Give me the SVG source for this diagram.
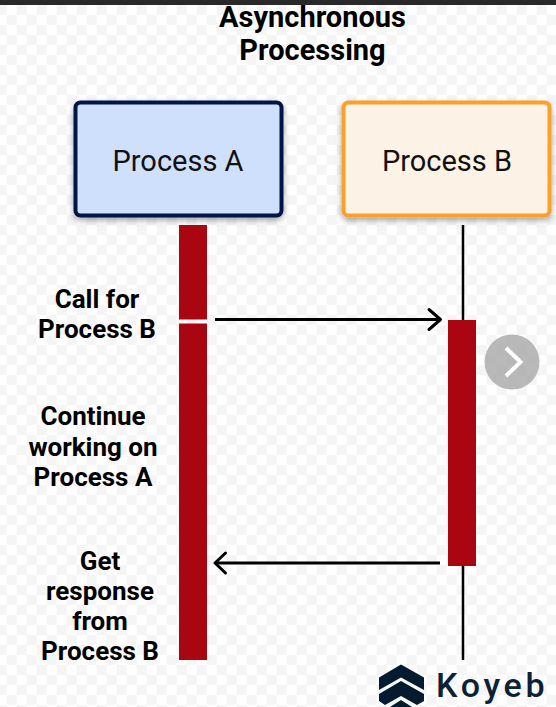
<svg xmlns="http://www.w3.org/2000/svg" width="556" height="707" viewBox="0 0 556 707">
<style>
.t{font-family:Roboto,"Liberation Sans",sans-serif;fill:#000;text-anchor:middle}
.b{font-weight:700;font-size:29px}
.l{font-weight:700;font-size:26px}
.n{font-size:29px;fill:#111}
.bar{fill:#a90612}
.ln{stroke:#000;fill:none;stroke-linecap:butt}
.ah{stroke:#000;fill:none;stroke-width:3;stroke-linecap:round;stroke-linejoin:round}
</style>
<defs>
<pattern id="chk" width="20" height="20" patternUnits="userSpaceOnUse" x="16.670" y="5">
<rect width="20" height="20" fill="#fff"/>
<rect x="0" y="0" width="10" height="10" fill="#f5f5f5"/>
<rect x="10" y="10" width="10" height="10" fill="#f5f5f5"/>
</pattern>
<filter id="sh" x="-10%" y="-10%" width="120%" height="125%"><feDropShadow dx="0" dy="3" stdDeviation="3" flood-color="#000" flood-opacity="0.35"/></filter>
</defs>
<rect width="556" height="707" fill="url(#chk)"/>
<rect width="556" height="5" fill="#292929"/>
<g id="title"><text class="t b" x="312.500" y="27">Asynchronous</text><text class="t b" x="312.500" y="60">Processing</text></g>
<g id="connectors">
<line class="ln" x1="463" y1="225" x2="463" y2="320" stroke-width="2.500"/>
<line class="ln" x1="463" y1="565" x2="463" y2="660" stroke-width="2.500"/>
<line class="ln" x1="215" y1="319.500" x2="440" y2="319.500" stroke-width="3"/>
<path class="ah" d="M429 309.500L440.500 319.500L429 329.500"/>
<line class="ln" x1="440" y1="563" x2="215" y2="563" stroke-width="3"/>
<path class="ah" d="M225.500 553L215 563L225.500 573"/>
</g>
<g id="process-a"><rect x="75.500" y="102.500" width="206" height="113" rx="5" fill="#cfe0fd" stroke="#04144a" stroke-width="4" filter="url(#sh)"/><text class="t n" x="178" y="170.500">Process A</text></g>
<g id="process-b"><rect x="343.500" y="102.500" width="206" height="113" rx="5" fill="#fdf2e6" stroke="#fe9f2b" stroke-width="4" filter="url(#sh)"/><text class="t n" x="447" y="170.500">Process B</text></g>
<g id="bar-a"><rect class="bar" x="179" y="225" width="28" height="94.500"/><rect class="bar" x="179" y="323.500" width="28" height="336.500"/></g>
<g id="bar-b"><rect class="bar" x="448" y="320" width="28" height="246"/></g>
<g id="label-call"><text class="t l" x="97" y="308">Call for</text><text class="t l" x="97" y="338">Process B</text></g>
<g id="label-continue"><text class="t l" x="93" y="425">Continue</text><text class="t l" x="93" y="456">working on</text><text class="t l" x="93" y="486">Process A</text></g>
<g id="label-get"><text class="t l" x="100" y="569.500">Get</text><text class="t l" x="100" y="599.500">response</text><text class="t l" x="100" y="629.500">from</text><text class="t l" x="100" y="659.500">Process B</text></g>
<g id="next-button"><circle cx="512" cy="362" r="27.500" fill="#a8a8a8" fill-opacity="0.8"/><path d="M506 348L520.500 362L506 376" fill="none" stroke="#fff" stroke-width="4"/></g>
<g id="logo"><path d="M401 664.500L424 677.500V690L401 677.500L379 690V677.500Z" fill="#041a2f"/><path d="M401 681L424 694V701L417 705L401 696L385 705L379 701V694Z" fill="#041a2f"/><path d="M401 700L412 707H390Z" fill="#041a2f"/><text x="436" y="697" font-family="Roboto,'Liberation Sans',sans-serif" font-weight="500" font-size="34" letter-spacing="3.700" fill="#0b2138">Koyeb</text></g>
</svg>
